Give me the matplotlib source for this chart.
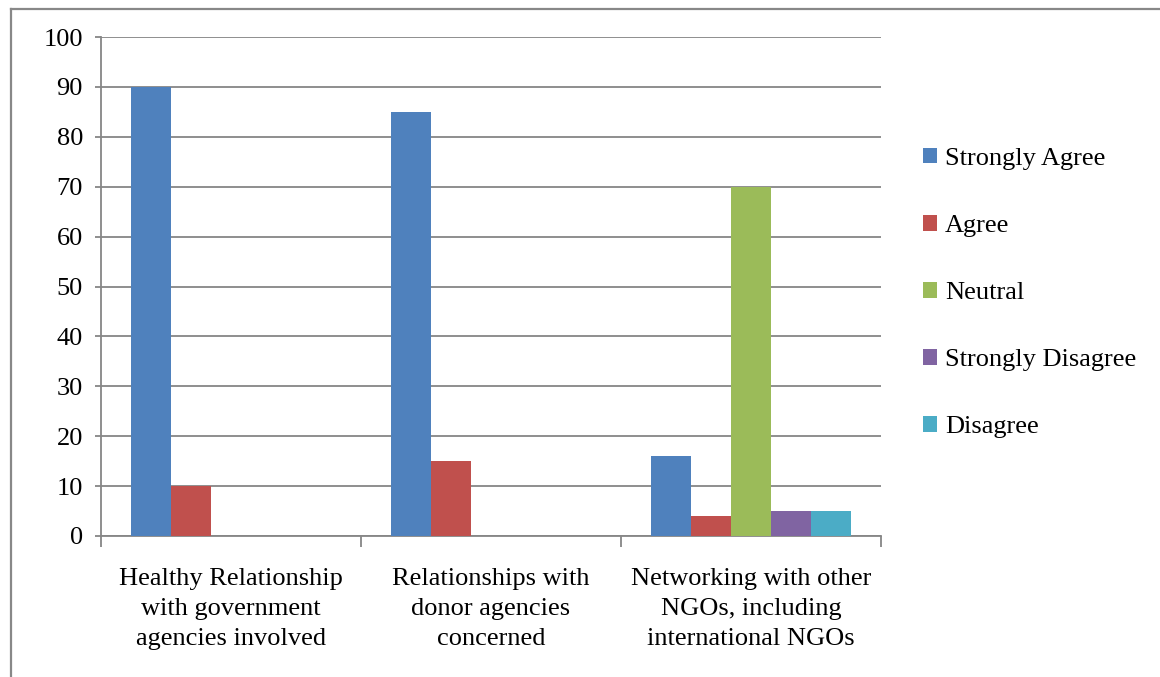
import matplotlib
matplotlib.use("Agg")
import matplotlib.pyplot as plt
import numpy as np
from matplotlib.lines import Line2D
from matplotlib.patches import Patch

categories = ["Healthy Relationship\nwith government\nagencies involved",
              "Relationships with\ndonor agencies\nconcerned",
              "Networking with other\nNGOs, including\ninternational NGOs"]
series_names = ["Strongly Agree", "Agree", "Neutral", "Strongly Disagree", "Disagree"]
strongly_agree = [90, 85, 16]
agree = [10, 15, 4]
neutral = [0, 0, 70]
strongly_disagree = [0, 0, 5]
disagree = [0, 0, 5]
colors = ["#4F81BD", "#C0504D", "#9BBB59", "#8064A2", "#4BACC6"]
yticks = [0, 10, 20, 30, 40, 50, 60, 70, 80, 90, 100]

plt.rcParams['font.family'] = ['Liberation Serif', 'DejaVu Serif']
FS = 19

W, H = 1160, 677
fig = plt.figure(figsize=(W/100, H/100), dpi=100)
ax = fig.add_axes([101/W, 141/H, 780/W, 499/H])

values = [strongly_agree, agree, neutral, strongly_disagree, disagree]
x = np.arange(len(categories))
bw = 40/260
for i, (vals, c) in enumerate(zip(values, colors)):
    ax.bar(x + (i - 2) * bw, vals, width=bw, color=c, label=series_names[i], zorder=3)

ax.set_xlim(-0.5, 2.5)
ax.set_ylim(0, 100)
ax.set_yticks(yticks)
ax.grid(axis='y', color='#868686', linewidth=1.3, zorder=0)
for s in ['top', 'right']:
    ax.spines[s].set_visible(False)
for s in ['left', 'bottom']:
    ax.spines[s].set_color('#868686')
    ax.spines[s].set_linewidth(1.3)
ax.tick_params(axis='y', length=4, width=1.3, color='#868686', pad=9, labelsize=FS)
ax.set_xticks(x)
ax.set_xticklabels(categories, fontsize=FS, linespacing=1.47)
ax.set_xticks([-0.5, 0.5, 1.5, 2.5], minor=True)
ax.tick_params(axis='x', which='major', length=0, pad=23)
ax.tick_params(axis='x', which='minor', length=8, width=1.3, color='#868686')

handles = [Patch(facecolor=c, edgecolor='none') for c in colors]
fig.legend(handles, series_names, loc='upper left', bbox_to_anchor=(912/W, 1 - 137/H),
           frameon=False, fontsize=FS, labelspacing=1.70, handlelength=0.55,
           handleheight=0.55, handletextpad=0.3, borderaxespad=0)

fig.add_artist(Line2D([10.5/W, 10.5/W], [0, 1 - 8.5/H], color='#888888', linewidth=1.6))
fig.add_artist(Line2D([10.5/W, 1], [1 - 8.5/H, 1 - 8.5/H], color='#888888', linewidth=1.6))

fig.savefig("out.png", dpi=100)
